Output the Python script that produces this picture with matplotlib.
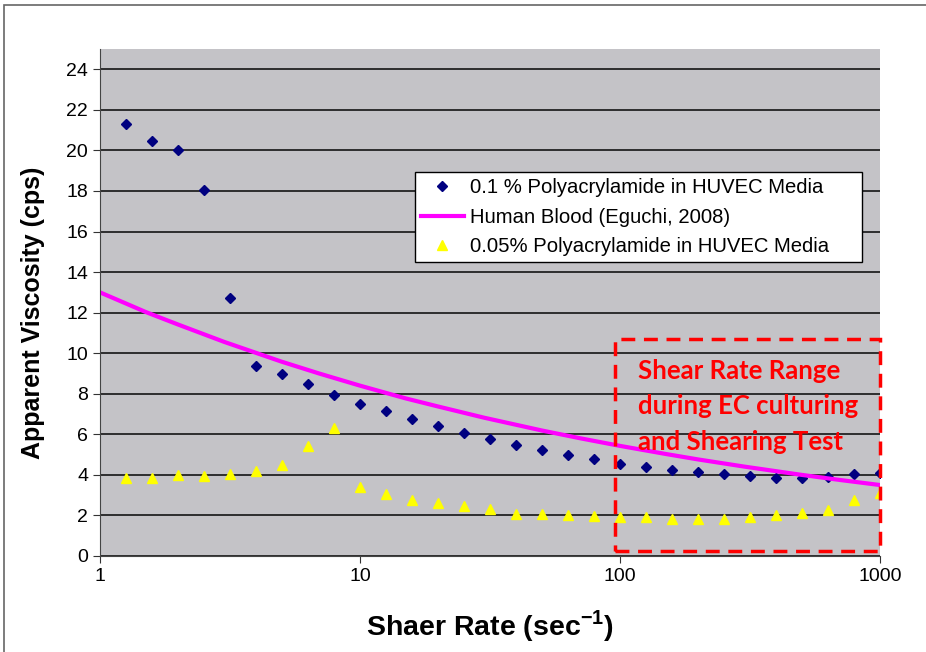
import numpy as np
import matplotlib
matplotlib.use("Agg")
import matplotlib.pyplot as plt
from matplotlib.patches import Rectangle

plt.rcParams['font.family'] = ['Liberation Sans', 'DejaVu Sans']
plt.rcParams['mathtext.fontset'] = 'custom'
plt.rcParams['mathtext.rm'] = 'Liberation Sans'
plt.rcParams['mathtext.bf'] = 'Liberation Sans:bold'

# shear rates, 10 points per decade
shear = [1.26, 1.58, 2.0, 2.51, 3.16, 3.98, 5.01, 6.31, 7.94, 10,
         12.6, 15.8, 20.0, 25.1, 31.6, 39.8, 50.1, 63.1, 79.4, 100,
         126, 158, 200, 251, 316, 398, 501, 631, 794, 1000]

pam_01 = [21.3, 20.45, 20.0, 18.05, 12.7, 9.35, 8.97, 8.48, 7.93, 7.49,
          7.13, 6.77, 6.4, 6.07, 5.75, 5.47, 5.23, 5.0, 4.78, 4.56,
          4.38, 4.24, 4.12, 4.04, 3.93, 3.87, 3.87, 3.9, 4.02, 4.08]

pam_005 = [3.86, 3.86, 3.98, 3.93, 4.06, 4.17, 4.47, 5.43, 6.32, 3.4,
           3.04, 2.76, 2.6, 2.46, 2.31, 2.08, 2.05, 2.03, 1.97, 1.92,
           1.9, 1.84, 1.83, 1.83, 1.92, 2.0, 2.13, 2.26, 2.76, 3.09]

blood_rate = [1, 1.5, 2, 3, 5, 7, 10, 15, 20, 30, 50, 70,
              100, 150, 200, 300, 500, 700, 1000]
blood_visc = [13.0, 12.03, 11.41, 10.56, 9.58, 8.99, 8.40, 7.77, 7.37, 6.82,
              6.19, 5.81, 5.43, 5.03, 4.76, 4.41, 4.00, 3.75, 3.50]

box_x = [96, 1000]
box_y = [0.25, 10.7]
box_text = "Shear Rate Range\nduring EC culturing\nand Shearing Test"

fig = plt.figure(figsize=(9.26, 6.52), dpi=100)
ax = fig.add_axes([100 / 926, 1 - 556 / 652, 780 / 926, 507 / 652])
ax.set_facecolor('#c4c3c7')

# outer chart border (top / left visible)
fig.patches.append(Rectangle((4 / 926, -0.05), 1.2, 1 - 5 / 652 + 0.05,
                             transform=fig.transFigure, fill=False,
                             edgecolor='#666666', linewidth=1.2))

ax.set_xscale('log')
ax.set_xlim(1, 1000)
ax.set_ylim(0, 25)
ax.set_yticks(np.arange(0, 25, 2))
ax.set_xticks([1, 10, 100, 1000])
ax.set_xticklabels(['1', '10', '100', '1000'])
ax.xaxis.set_minor_locator(matplotlib.ticker.NullLocator())
ax.tick_params(labelsize=14, direction='out', length=5, color='#333333')
ax.yaxis.grid(True, color='#222222', linewidth=1.3)
ax.set_axisbelow(True)
for s in ['top', 'right']:
    ax.spines[s].set_visible(False)
ax.spines['left'].set_color('#444444')
ax.spines['bottom'].set_color('#444444')

ax.plot(shear, pam_01, linestyle='none', marker='D', markersize=5,
        color='#000080', label='0.1 % Polyacrylamide in HUVEC Media')
ax.plot(blood_rate, blood_visc, color='#ff00ff', linewidth=3,
        label='Human Blood (Eguchi, 2008)')
ax.plot(shear, pam_005, linestyle='none', marker='^', markersize=7,
        color='#ffff00', label='0.05% Polyacrylamide in HUVEC Media')

ax.add_patch(Rectangle((box_x[0], box_y[0]), box_x[1] - box_x[0], box_y[1] - box_y[0],
                       fill=False, edgecolor='#ff0000', linewidth=2.5,
                       linestyle=(0, (4, 2.5)), clip_on=False, zorder=5))
ax.text(117, 9.72, box_text, color='#ff0000', fontsize=18.5, fontweight='bold',
        family=['Lato', 'DejaVu Sans'], va='top', ha='left', linespacing=1.57)

leg = ax.legend(loc='upper left', bbox_to_anchor=(0.404, 0.0, 0.573, 0.757),
                mode='expand', fontsize=14.6,
                frameon=True, fancybox=False, edgecolor='black', framealpha=1,
                handlelength=2.1, handletextpad=0.3, labelspacing=0.52,
                borderpad=0.3, borderaxespad=0)
leg.get_frame().set_linewidth(1.0)

ax.set_xlabel(r'Shaer Rate (sec$^{\mathbf{-1}}$)', fontsize=20.5, fontweight='bold', labelpad=17)
ax.set_ylabel('Apparent Viscosity (cps)', fontsize=18, fontweight='bold')
ax.yaxis.set_label_coords(-0.07, 0.479)

fig.savefig('out.png', dpi=100)
